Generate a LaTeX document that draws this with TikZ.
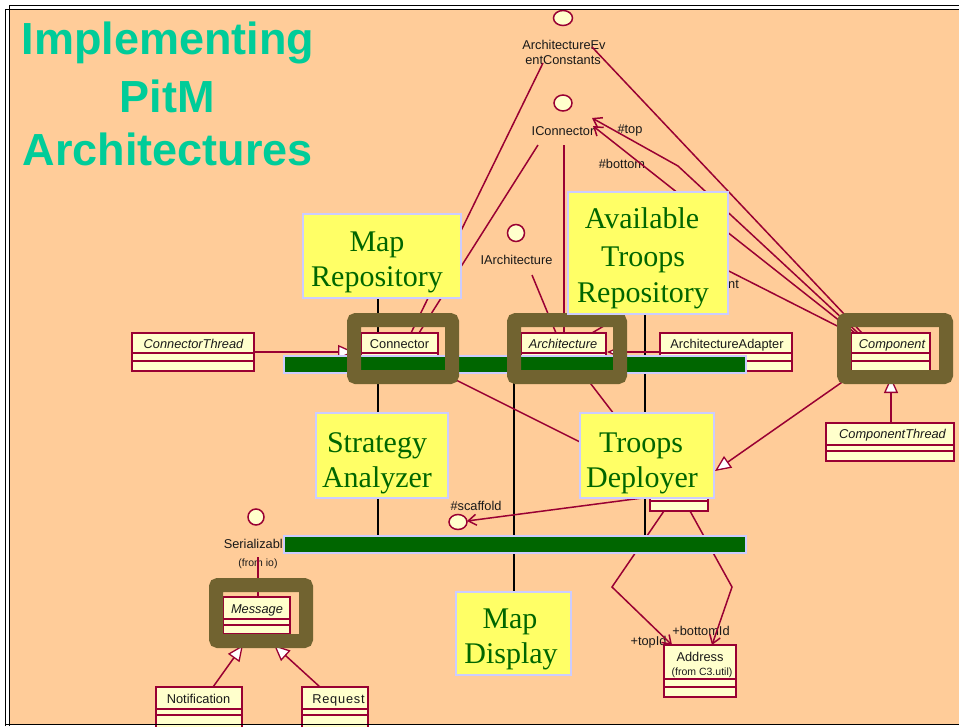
\documentclass[tikz,border=0pt]{standalone}
\usepackage{fontspec}
\setmainfont{Liberation Serif}
\newfontfamily\arialfont{Liberation Sans}
\usetikzlibrary{arrows.meta,shapes.geometric}

\definecolor{peach}{HTML}{FFCC99}
\definecolor{clsfill}{HTML}{FFFFCC}
\definecolor{umlred}{HTML}{990033}
\definecolor{olive}{HTML}{716330}
\definecolor{busgreen}{HTML}{006600}
\definecolor{lavender}{HTML}{CCCCFF}
\definecolor{notefill}{HTML}{FFFF66}
\definecolor{notetext}{HTML}{006600}
\definecolor{titlecol}{HTML}{00CC99}

\tikzset{
  cls/.style={draw=umlred, fill=clsfill, line width=1.5pt, inner sep=0pt, outer sep=0pt},
  clsline/.style={draw=umlred, line width=1.5pt},
  rel/.style={draw=umlred, line width=1.5pt},
  gen/.style={rel, -{Triangle[length=16pt,width=14pt,fill=white,line width=1.3pt]}},
  nav/.style={rel, -{Straight Barb[length=8pt,width=11pt]}},
  iface/.style={ellipse, draw=umlred, fill=clsfill, line width=1.5pt,
    minimum width=18pt, minimum height=16pt, inner sep=0pt},
  umltext/.style={font=\arialfont\fontsize{12.8}{14}\selectfont, text=black!90, inner sep=0pt},
  smalltext/.style={font=\arialfont\fontsize{10.5}{12}\selectfont, text=black!90, inner sep=0pt},
  note/.style={draw=lavender, fill=notefill, line width=1.5pt, inner sep=0pt},
  notetxt/.style={font=\fontsize{30}{36}\selectfont, text=notetext, inner sep=0pt, anchor=base},
  bus/.style={draw=lavender, fill=busgreen, line width=1.5pt, inner sep=0pt},
  hilite/.style={draw=olive, line width=14pt, rounded corners=2pt, inner sep=0pt},
  wire/.style={draw=black, line width=1.5pt},
  titletext/.style={font=\arialfont\bfseries\fontsize{45}{54}\selectfont, text=titlecol,
    inner sep=0pt, anchor=base},
  frameline/.style={draw=black, line width=1.3pt}
}

% UML class box: name, x1, y1, x2, y2, first and second compartment rule
\newcommand\classbox[7]{%
  \pgfmathsetmacro\cbw{#4-#2}%
  \pgfmathsetmacro\cbh{#5-#3}%
  \node[cls, minimum width=\cbw pt, minimum height=\cbh pt] (#1) at ({(#2+#4)/2},{(#3+#5)/2}) {};
  \draw[clsline] (#2,#6) -- (#4,#6) (#2,#7) -- (#4,#7);
}

\begin{document}
\begin{tikzpicture}[x=1pt, y=-1pt]
\useasboundingbox (0,0) rectangle (959,726);
\clip (0,0) rectangle (959,726);

% slide background
\fill[white] (0,0) rectangle (959,726);
\fill[peach] (10,10) rectangle (959,724);

% ---------- notes and buses (placed first, drawn again on top below) ----------
\path (378,0) coordinate (colA) (514,0) coordinate (colB) (645,0) coordinate (colC);
\path node[minimum width=158pt, minimum height=84pt, inner sep=0pt] (mapRepo) at (382,256) {}
      node[minimum width=160pt, minimum height=122pt, inner sep=0pt] (avail) at (648,253) {}
      node[minimum width=132pt, minimum height=85pt, inner sep=0pt] (strat) at (382,455.5) {}
      node[minimum width=134pt, minimum height=85pt, inner sep=0pt] (deploy) at (647,455.5) {}
      node[minimum width=115pt, minimum height=83pt, inner sep=0pt] (mapDisp) at (513.5,633.5) {}
      node[minimum width=462pt, minimum height=17pt, inner sep=0pt] (busTop) at (515,364.5) {}
      node[minimum width=462pt, minimum height=17pt, inner sep=0pt] (busBot) at (515,544.5) {};

% ---------- black wires between components and buses ----------
\draw[wire] (mapRepo.south -| colA) -- (busTop.north -| colA);
\draw[wire] (busTop.south -| colA) -- (strat.north -| colA);
\draw[wire] (strat.south -| colA) -- (busBot.north -| colA);
\draw[wire] (busTop.south -| colB) -- (mapDisp.north -| colB);
\draw[wire] (avail.south -| colC) -- (busTop.north -| colC);
\draw[wire] (busTop.south -| colC) -- (deploy.north -| colC);
\draw[wire] (deploy.south -| colC) -- (busBot.north -| colC);

% ---------- coordinates for relation ends ----------
\coordinate (aecL) at (543,63);
\coordinate (aecR) at (592,47);
\coordinate (iconnA) at (538,145);
\coordinate (iconnB) at (564,145);
\coordinate (iconnTip1) at (592,118);
\coordinate (iconnTip2) at (593,126);
\coordinate (iarchS) at (532,275);
\coordinate (conTopA) at (411,333);
\coordinate (conTopB) at (419,333);
\coordinate (archTopA) at (564,333);
\coordinate (archTopB) at (556,333);
\coordinate (archTopC) at (592,333);
\coordinate (ntBend) at (711,262);
\coordinate (compTopA) at (862,333);
\coordinate (compTopB) at (858,333);
\coordinate (compTopC) at (855,333);
\coordinate (compTopD) at (851,333);
\coordinate (topBend) at (678,166);
\coordinate (ctE) at (254,352);
\coordinate (ctTip) at (354,352);
\coordinate (adapterW) at (660,352);
\coordinate (archTip) at (607,352);
\coordinate (conSE) at (438,371);
\coordinate (tdW) at (650,477);
\coordinate (archBot) at (581,371);
\coordinate (tdTop) at (653,465);
\coordinate (compBot) at (858,371);
\coordinate (tdTip) at (715,471);
\coordinate (ctTop) at (891,423);
\coordinate (compTip) at (891,377);
\coordinate (tdLeft) at (650,497);
\coordinate (scafTip) at (467,521);
\coordinate (tdBotA) at (664,511);
\coordinate (topIdBend) at (612,587);
\coordinate (addrTipA) at (672,645);
\coordinate (tdBotB) at (690,511);
\coordinate (botIdBend) at (732,587);
\coordinate (addrTipB) at (712,645);
\coordinate (serialS) at (258,557);
\coordinate (msgTop) at (258,597);
\coordinate (notifTop) at (213,687);
\coordinate (msgTipA) at (243,645);
\coordinate (reqTop) at (320,687);
\coordinate (msgTipB) at (274,645);

% ---------- interface and role labels ----------
\node[umltext, anchor=base] (aecL1) at (564,49) {ArchitectureEv};
\node[umltext, anchor=base] (aecL2) at (563,64) {entConstants};
\node[umltext, anchor=base] (iconnL) at (563,135) {IConnector};
\node[umltext, anchor=base] (topL) at (630,133) {\#top};
\node[umltext, anchor=base] (botL) at (622,168) {\#bottom};
\node[umltext, anchor=base] (iarchL) at (516.5,264) {IArchitecture};
\node[umltext, anchor=base west] (ntL) at (728,288) {nt};
\node[umltext, anchor=base east] (serialL) at (283,548) {Serializabl};
\node[smalltext, anchor=base] (serialFrom) at (258,566) {(from io)};
\node[umltext, anchor=base] (scaffoldL) at (476,510) {\#scaffold};
\node[umltext, anchor=base] (topIdL) at (648.5,645) {+topId};
\node[umltext, anchor=base] (botIdL) at (701,635) {+bottomId};

% ---------- UML relations ----------
\draw[rel] (aecL) -- (conTopA);
\draw[rel] (iconnA) -- (conTopB);
\draw[rel] (iconnB) -- (archTopA);
\draw[rel] (iarchS) -- (archTopB);
\draw[rel] (aecR) -- (compTopA);
\draw[nav] (compTopB) -- (topBend) -- (iconnTip1);
\draw[nav] (compTopC) -- (iconnTip2);
\draw[rel] (archTopC) -- (ntBend) -- (compTopD);
\draw[gen] (ctE) -- (ctTip);
\draw[gen] (adapterW) -- (archTip);
\draw[rel] (conSE) -- (tdW);
\draw[rel] (archBot) -- (tdTop);
\draw[gen] (compBot) -- (tdTip);
\draw[gen] (ctTop) -- (compTip);
\draw[nav] (tdLeft) -- (scafTip);
\draw[nav] (tdBotA) -- (topIdBend) -- (addrTipA);
\draw[nav] (tdBotB) -- (botIdBend) -- (addrTipB);
\draw[rel] (serialS) -- (msgTop);
\draw[gen] (notifTop) -- (msgTipA);
\draw[gen] (reqTop) -- (msgTipB);

% ---------- interfaces ----------
\node[iface, minimum width=19pt, minimum height=15pt] (aec) at (563,18) {};
\node[iface] (iconn) at (563,103) {};
\node[iface, minimum width=17pt, minimum height=17pt] (iarch) at (516,233) {};
\node[iface, minimum width=16pt, minimum height=16pt] (serial) at (256,517) {};
\node[iface, minimum width=18pt, minimum height=15pt] (scaffold) at (458,522) {};

% ---------- classes ----------
\classbox{cthread}{132}{333}{254}{371}{353}{361}
\classbox{connector}{361}{333}{438}{371}{353}{361}
\classbox{architecture}{521}{333}{606}{371}{353}{361}
\classbox{archadapter}{660}{333}{792}{371}{353}{361}
\classbox{component}{851}{333}{930}{371}{353}{361}
\classbox{compthread}{826}{423}{954}{461}{445}{451}
\classbox{deployer}{650}{465}{708}{511}{493}{501}
\classbox{message}{223}{597}{290}{634}{619}{625}
\classbox{notification}{156}{687}{242}{735}{709}{715}
\classbox{request}{302}{687}{368}{735}{709}{715}
\classbox{address}{664}{645}{736}{697}{679}{687}

\node[umltext, anchor=base] (cthreadN) at (193.5,348) {\itshape ConnectorThread};
\node[umltext, anchor=base] (connectorN) at (399.5,348) {Connector};
\node[umltext, anchor=base] (architectureN) at (563,348) {\itshape Architecture};
\node[umltext, anchor=base] (archadapterN) at (727,348) {ArchitectureAdapter};
\node[umltext, anchor=base] (componentN) at (892,348) {\itshape Component};
\node[umltext, anchor=base] (compthreadN) at (892.5,438) {\itshape ComponentThread};
\node[umltext, anchor=base] (messageN) at (257,613) {\itshape Message};
\node[umltext, anchor=base] (notificationN) at (198.5,703) {Notification};
\node[umltext, anchor=base] (requestN) at (338.5,703) {R\kern.8pt e\kern.8pt q\kern.8pt u\kern.8pt e\kern.8pt s\kern.8pt t};
\node[umltext, anchor=base] (addressN) at (700,661) {Address};
\node[smalltext, anchor=base] (addressFrom) at (702,675) {(from C3.util)};

% ---------- buses ----------
\draw[bus] (busTop.north west) rectangle (busTop.south east);
\draw[bus] (busBot.north west) rectangle (busBot.south east);

% ---------- highlight frames around key classes ----------
\node[hilite, minimum width=98pt, minimum height=57pt] (hlConn) at (403,348.5) {};
\node[hilite, minimum width=106pt, minimum height=57pt] (hlArch) at (567,348.5) {};
\node[hilite, minimum width=102pt, minimum height=57pt] (hlComp) at (895,348.5) {};
\node[hilite, minimum width=90pt, minimum height=56pt] (hlMsg) at (261,613) {};

% ---------- yellow component notes ----------
\draw[note] (mapRepo.north west) rectangle (mapRepo.south east);
\draw[note] (avail.north west) rectangle (avail.south east);
\draw[note] (strat.north west) rectangle (strat.south east);
\draw[note] (deploy.north west) rectangle (deploy.south east);
\draw[note] (mapDisp.north west) rectangle (mapDisp.south east);

\node[notetxt] (mapRepo1) at (377,251) {Map};
\node[notetxt] (mapRepo2) at (377,286) {Repository};
\node[notetxt] (avail1) at (642,228) {Available};
\node[notetxt] (avail2) at (643,266) {Troops};
\node[notetxt] (avail3) at (643,302) {Repository};
\node[notetxt] (strat1) at (377,452) {Strategy};
\node[notetxt] (strat2) at (377,487) {Analyzer};
\node[notetxt] (deploy1) at (641,452) {Troops};
\node[notetxt] (deploy2) at (642,487) {Deployer};
\node[notetxt] (mapDisp1) at (510,628) {Map};
\node[notetxt] (mapDisp2) at (511,663) {Display};

% ---------- slide title ----------
\node[titletext] (title1) at (168,54) {Implementing};
\node[titletext] (title2) at (167,112) {PitM};
\node[titletext] (title3) at (168,165) {Architectures};

% ---------- slide frame ----------
\draw[frameline] (5.5,726) -- (5.5,9.5) -- (959,9.5);
\draw[frameline] (9.5,726) -- (9.5,5.5) -- (959,5.5);
\draw[frameline] (5.5,724.5) -- (959,724.5);

\end{tikzpicture}
\end{document}
